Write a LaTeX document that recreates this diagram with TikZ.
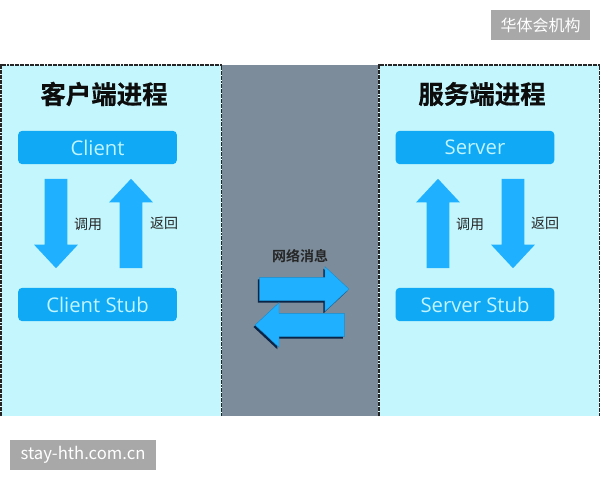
\documentclass[tikz,border=0pt]{standalone}
\usepackage{fontspec}
\setmainfont{Open Sans}
\newfontfamily\cjk{Noto Sans CJK SC}
\newfontfamily\cjkbold{Noto Sans CJK SC Bold}
\newfontfamily\cjkheavy[FakeBold=0.5]{Noto Sans CJK SC Bold}
\usepackage{tikz}
\usetikzlibrary{shapes.arrows, shadows, positioning}
\definecolor{panelblue}{HTML}{C4F6FD}
\definecolor{boxblue}{HTML}{0FA9F5}
\definecolor{arrowblue}{HTML}{1FB0FF}
\definecolor{wiregray}{HTML}{7C8C9B}
\definecolor{stampgray}{HTML}{A8A8A8}
\definecolor{boxtext}{HTML}{C0F4FF}
\definecolor{shadownavy}{HTML}{0A2448}
\tikzstyle{panel} = [rectangle, anchor=north west, inner sep=0pt, minimum height=263pt]
\tikzstyle{rim} = [draw=black!85, dash pattern=on 1.5pt off 0.4pt, line width=0.8pt]
\tikzstyle{title} = [font=\cjkheavy\fontsize{19.1}{21}\selectfont, text=black!95]
\tikzstyle{stage} = [rectangle, rounded corners=3pt, minimum width=119pt, minimum height=25pt, inner sep=0pt, fill=boxblue, text=boxtext, font=\fontsize{15.2}{17}\selectfont]
\tikzstyle{call} = [single arrow, minimum height=67pt, minimum width=32.5pt, single arrow head extend=8pt, single arrow tip angle=86, single arrow head indent=0pt, inner xsep=0pt, inner ysep=8.25pt, fill=arrowblue]
\tikzstyle{wire} = [single arrow, minimum height=67pt, minimum width=33pt, single arrow head extend=8pt, single arrow tip angle=86, inner xsep=0pt, inner ysep=8.6pt, fill=arrowblue, draw=arrowblue!80!black, line width=0.3pt, drop shadow={shadow xshift=-1.2pt, shadow yshift=-1.5pt, fill=shadownavy, opacity=1}]
\tikzstyle{small} = [font=\cjk\fontsize{10.5}{12}\selectfont, text=black!85]
\tikzstyle{stamp} = [rectangle, inner sep=0pt, minimum height=22.5pt, fill=stampgray, text=white]
\begin{document}
\begin{tikzpicture}[x=0.75pt, y=-0.75pt, node distance=117.75pt]
	\useasboundingbox (0,0) rectangle (600,480);

	\node (clientPanel) [panel, fill=panelblue, minimum width=165pt] at (1,65) {};
	\node (wirePanel) [panel, fill=wiregray, minimum width=117pt] at (222,65) {};
	\node (serverPanel) [panel, fill=panelblue, minimum width=165pt] at (379,65) {};
	\draw [rim] (clientPanel.south west) -- (clientPanel.north west) -- (clientPanel.north east) -- (clientPanel.south east);
	\draw [rim] (serverPanel.south west) -- (serverPanel.north west) -- (serverPanel.north east) -- (serverPanel.south east);

	\node (clientTitle) [title] at (104,94) {客户端进程};
	\node (serverTitle) [title] at (482,94) {服务端进程};

	\node (client) [stage] at (97.5,147.5) {Client};
	\node (clientStub) [stage, below of=client] {Client Stub};
	\node (server) [stage] at (475,147.5) {Server};
	\node (serverStub) [stage, below of=server] {Server Stub};

	\node (clientCall) [call, rotate=-90] at (56,217.5) {};
	\node (clientBack) [call, rotate=90] at (131,229.5) {};
	\node (serverBack) [call, rotate=90] at (438,229.5) {};
	\node (serverCall) [call, rotate=-90] at (513,217.5) {};

	\node (clientCallText) [small] at (88,224) {调用};
	\node (clientBackText) [small] at (164,223) {返回};
	\node (serverCallText) [small] at (470,224) {调用};
	\node (serverBackText) [small] at (545,223) {返回};

	\node (wireText) [small, font=\cjkbold\fontsize{10.5}{12}\selectfont] at (300,256) {网络消息};
	\node (wireOut) [wire] at (298,289) {};
	\node (wireIn) [wire, rotate=180] at (306,325) {};

	\node (stampTop) [stamp, minimum width=74.25pt, font=\cjk\fontsize{12}{14}\selectfont] at (540.5,25) {华体会机构};
	\node (stampBottom) [stamp, minimum width=109.5pt, font=\cjk\fontsize{12.5}{14}\selectfont] at (83,455) {stay-hth.com.cn};
\end{tikzpicture}
\end{document}
